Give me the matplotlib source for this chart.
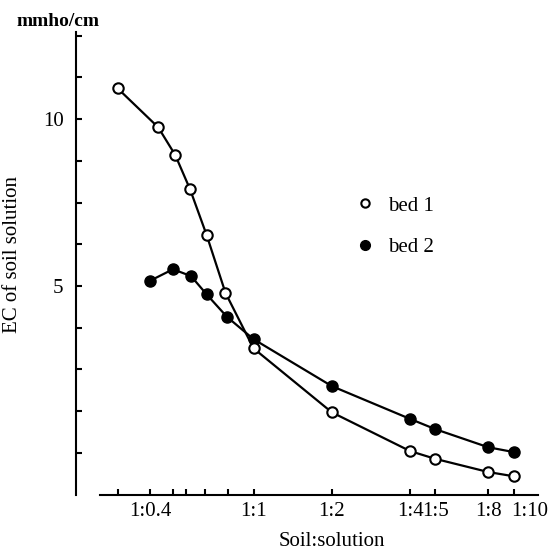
import matplotlib
matplotlib.use("Agg")
import matplotlib.pyplot as plt
import matplotlib.transforms as mtransforms
from matplotlib.lines import Line2D
from matplotlib.ticker import FixedLocator, NullLocator, NullFormatter

plt.rcParams['font.family'] = ['Liberation Serif', 'DejaVu Serif']

# soil:solution ratio (1:x) and EC of soil solution (mmho/cm)
ratio_bed1 = [0.30, 0.43, 0.50, 0.57, 0.66, 0.78, 1, 2, 4, 5, 8, 10]
ec_bed1 = [11.36, 9.66, 8.61, 7.47, 6.18, 4.86, 3.86, 2.96, 2.52, 2.44, 2.31, 2.27]
ratio_bed2 = [0.40, 0.49, 0.575, 0.66, 0.79, 1, 2, 4, 5, 8, 10]
ec_bed2 = [5.11, 5.36, 5.21, 4.83, 4.40, 4.01, 3.30, 2.88, 2.76, 2.56, 2.51]

x_major = [0.4, 1, 2, 4, 5, 8, 10]
x_labels = ["1:0.4", "1:1", "1:2", "1:4", "1:5", "1:8", "1:10"]
x_minor = [0.3, 0.49, 0.55, 0.65, 0.8]
y_ticks = [5 * 2 ** (k / 4) for k in range(-4, 7)]

fig = plt.figure(figsize=(5.54, 5.52), dpi=100)
ax = fig.add_axes([76 / 554, 1 - 495 / 552, (538 - 76) / 554, (495 - 32) / 552])

ax.set_xscale('log')
ax.set_yscale('log')
ax.set_xlim(0.2076, 12.42)
ax.set_ylim(2.10, 14.35)

ax.plot(ratio_bed1, ec_bed1, color='black', lw=1.6, zorder=2)
ax.plot(ratio_bed2, ec_bed2, color='black', lw=1.6, zorder=2)
ax.plot(ratio_bed1, ec_bed1, 'o', ms=7.5, mfc='white', mec='black', mew=1.5, zorder=4)
ax.plot(ratio_bed2, ec_bed2, 'o', ms=8, mfc='black', mec='black', mew=1, zorder=3)

# axes look
for side in ['top', 'right']:
    ax.spines[side].set_visible(False)
ax.spines['left'].set_linewidth(1.5)
ax.spines['bottom'].set_linewidth(1.5)
ax.spines['bottom'].set_bounds(0.257, 12.42)

ax.xaxis.set_major_locator(FixedLocator(x_major))
ax.set_xticklabels(x_labels)
ax.xaxis.set_minor_locator(FixedLocator(x_minor))
ax.xaxis.set_minor_formatter(NullFormatter())

ax.yaxis.set_major_locator(FixedLocator(y_ticks))
ax.yaxis.set_minor_locator(NullLocator())
ax.set_yticklabels(["10" if abs(v - 10) < 0.01 else "5" if abs(v - 5) < 0.01 else "" for v in y_ticks])

ax.tick_params(which='both', direction='in', length=4, width=1.5, labelsize=15)
ax.tick_params(axis='x', pad=5)
ax.tick_params(axis='y', pad=9)

# last label sits to the right of its tick
shift = mtransforms.ScaledTranslation(16 / 100, 0, fig.dpi_scale_trans)
lab = ax.xaxis.get_major_ticks()[-1].label1
lab.set_transform(lab.get_transform() + shift)

ax.set_xlabel("Soil:solution", fontsize=15)
ax.xaxis.set_label_coords(332 / 554, 1 - 532 / 552, transform=fig.transFigure)
ax.set_ylabel("EC of soil solution", fontsize=15)
ax.yaxis.set_label_coords(22 / 554, 1 - 255 / 552, transform=fig.transFigure)
fig.text(58 / 554, 1 - 22 / 552, "mmho/cm", fontsize=14, fontweight='bold',
         ha='center', va='center')

handles = [
    Line2D([], [], ls='none', marker='o', ms=6, mfc='white', mec='black', mew=1.5),
    Line2D([], [], ls='none', marker='o', ms=7, mfc='black', mec='black'),
]
ax.legend(handles, ["bed 1", "bed 2"], frameon=False, fontsize=15,
          loc='upper left', bbox_to_anchor=(360 / 554, 1 - 196 / 552),
          bbox_transform=fig.transFigure, borderpad=0, borderaxespad=0,
          handlelength=0.5, handletextpad=0.85, labelspacing=1.05)

fig.savefig("out.png", dpi=100)
